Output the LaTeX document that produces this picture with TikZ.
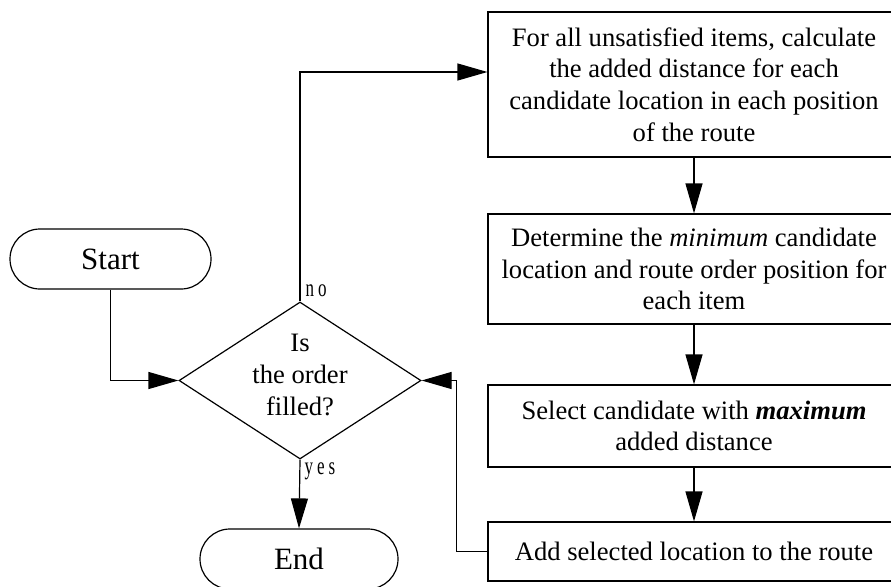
\documentclass[tikz,border=0pt]{standalone}
\usepackage{fontspec}
\setmainfont{Liberation Serif}
\usetikzlibrary{shapes.geometric,arrows.meta}

\begin{document}
\begin{tikzpicture}[x=1pt,y=-1pt,
  line width=1.2pt,
  flow/.style={-{Triangle[length=30pt,width=17pt]}},
  procbox/.style={draw, rectangle, minimum width=412pt, inner sep=0pt,
    align=center, font=\fontsize{26.6}{31.7}\selectfont},
  termbox/.style={draw, rectangle, rounded corners=30pt, minimum height=60pt,
    inner sep=0pt, font=\fontsize{31}{36}\selectfont},
  decbox/.style={draw, diamond, aspect=1.54, inner sep=0pt,
    minimum width=242pt, minimum height=157pt,
    align=center, font=\fontsize{26.6}{31.7}\selectfont},
  branch/.style={inner sep=0pt,
    font=\fontsize{25}{28}\selectfont\addfontfeature{FakeStretch=0.68,LetterSpace=16}}]

\useasboundingbox (0,0) rectangle (891,586);
\clip (0,0) rectangle (891,586);

% terminals and decision
\node[termbox, minimum width=201pt] (start) at (110.5,259) {Start};
\node[decbox] (dec) at (300,380.5) {};
\node[align=center, inner sep=0pt, font=\fontsize{26.6}{31.7}\selectfont]
  (dectext) at (300,375) {Is\\the order\\filled?};
\node[termbox, minimum width=198pt] (end) at (299,559) {End};

% process steps
\node[procbox, minimum height=145pt] (calc) at (694,84.5)
  {For all unsatisfied items, calculate\\the added distance for each\\candidate location in each position\\of the route};
\node[procbox, minimum height=110pt] (minsel) at (694,269)
  {Determine the \textit{minimum} candidate\\location and route order position for\\each item};
\node[procbox, minimum height=82pt] (maxsel) at (694,426)
  {Select candidate with \textbf{\textit{maximum}}\\added distance};
\node[procbox, minimum height=59pt] (addloc) at (694,551.5)
  {Add selected location to the route};

% branch labels
\node[branch, anchor=base west] (nolab) at (305,296) {no};
\node[branch, anchor=base west] (yeslab) at (304,474) {yes};

% connectors
\draw[flow] (start.south) |- (dec.west);
\draw[flow] (dec.north) |- ([yshift=12.5pt]calc.west);
\draw[flow] (dec.south) -- (end.north);
\draw[flow] (calc.south) -- (minsel.north);
\draw[flow] (minsel.south) -- (maxsel.north);
\draw[flow] (maxsel.south) -- (addloc.north);
\draw[flow] (addloc.west) -- ++(-31,0) |- (dec.east);
\end{tikzpicture}
\end{document}
